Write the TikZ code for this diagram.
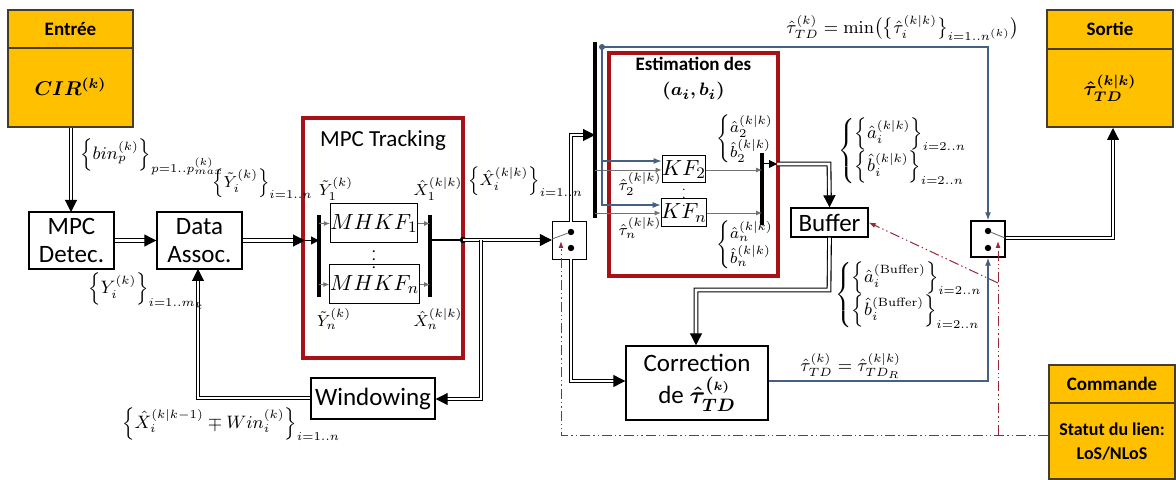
\documentclass[tikz,border=0pt]{standalone}
\usepackage{amsmath,bm}
\usepackage[no-math]{fontspec}
\setmainfont{Carlito}
\usetikzlibrary{arrows.meta}
\definecolor{gold}{RGB}{255,192,0}
\definecolor{ybord}{RGB}{70,60,40}
\definecolor{dred}{RGB}{168,18,22}
\definecolor{bl}{RGB}{68,96,130}
\definecolor{ddred}{RGB}{150,40,55}
\begin{document}
\begin{tikzpicture}[x=0.5pt,y=-0.5pt,
  box/.style={draw, line width=0.7pt, fill=white, inner sep=0pt, align=center, font=\fontsize{12.5}{14}\selectfont},
  mbox/.style={draw, line width=0.5pt, fill=white, inner sep=0pt, font=\fontsize{11}{12}\selectfont},
  ybox/.style={draw=ybord, line width=1pt, fill=gold, inner sep=0pt},
  yline/.style={draw=ybord, line width=0.8pt},
  hd/.style={inner sep=0pt, font=\fontsize{9.5}{11}\selectfont\bfseries, align=center},
  rbox/.style={draw=dred, line width=1.8pt, inner sep=0pt},
  dl/.style={double, double distance=1.3pt, line width=0.55pt},
  dla/.style={dl, -{Triangle[length=6pt,width=6pt]}},
  sa/.style={line width=0.8pt, -{Triangle[length=4pt,width=4pt]}},
  bar/.style={line width=2.2pt},
  ga/.style={draw=black!55, line width=0.4pt, -{Latex[length=3pt,width=2.5pt]}},
  ba/.style={draw=bl, line width=0.6pt, -{Latex[length=4pt,width=3pt]}},
  rd/.style={draw=ddred, line width=0.5pt, dash pattern=on 5pt off 1.5pt on 0.7pt off 1.5pt on 0.7pt off 1.5pt},
  rda/.style={rd, -{Latex[length=3.5pt,width=2.5pt]}},
  lab/.style={inner sep=0pt, anchor=west, font=\fontsize{9}{10}\selectfont},
  slab/.style={inner sep=0pt, font=\fontsize{8.5}{9}\selectfont},
  dot/.style={circle, fill, inner sep=0pt, minimum size=3.2pt},
]
\useasboundingbox (0,0) rectangle (1176,480);

% ---------- yellow boxes ----------
\node[ybox, minimum width=62.5pt, minimum height=58.5pt] (ent) at (70.5,68.5) {};
\draw[yline] (8,48) -- (133,48);
\node[hd] (entH) at (70.5,29) {Entrée};
\node[inner sep=0pt, font=\fontsize{10}{11}\selectfont] (entB) at (70.5,87) {$\bm{CIR^{(k)}}$};

\node[ybox, minimum width=63pt, minimum height=58.5pt] (sor) at (1110,68.5) {};
\draw[yline] (1047,49) -- (1173,49);
\node[hd] (sorH) at (1110,29) {Sortie};
\node[inner sep=0pt, font=\fontsize{10}{11}\selectfont] (sorB) at (1110,88) {$\bm{\hat{\tau}^{(k|k)}_{TD}}$};

\node[ybox, minimum width=63pt, minimum height=57pt] (com) at (1112,422) {};
\draw[yline] (1049,403) -- (1175,403);
\node[hd] (comH) at (1112,384) {Commande};
\node[hd, font=\fontsize{9}{12}\selectfont\bfseries] (comB) at (1112,442) {Statut du lien:\\LoS/NLoS};

% ---------- red frames ----------
\node[rbox, minimum width=80pt, minimum height=120pt] (trk) at (383,238) {};
\node[inner sep=0pt, font=\fontsize{11.5}{12}\selectfont] (trkT) at (383,140) {MPC Tracking};
\node[rbox, minimum width=84.5pt, minimum height=111.5pt] (est) at (693.5,164.5) {};
\node[hd, font=\fontsize{9.5}{12.5}\selectfont\bfseries] (estT) at (693.5,79) {Estimation des\\$\bm{(a_i,b_i)}$};

% ---------- blocks ----------
\node[box, minimum width=42.5pt, minimum height=28.5pt] (det) at (71.5,240.5) {MPC\\Detec.};
\node[box, minimum width=42.5pt, minimum height=28.5pt] (da) at (199.5,240.5) {Data\\Assoc.};
\node[mbox, minimum width=38pt, minimum height=19.5pt] (mh1) at (374,223.5) {$MHKF_1$};
\node[mbox, minimum width=38.5pt, minimum height=19.5pt] (mhn) at (374.5,284.5) {$MHKF_n$};
\node[inner sep=0pt, font=\fontsize{8}{9}\selectfont] (mhd) at (374,254) {$\vdots$};
\node[box, minimum width=62pt, minimum height=20.5pt] (win) at (373,398.5) {Windowing};
\node[box, minimum width=17pt, minimum height=19pt] (sw1) at (569.5,240.5) {};
\node[mbox, minimum width=21pt, minimum height=13.5pt] (kf2) at (684,169.5) {$KF_2$};
\node[mbox, minimum width=21pt, minimum height=14pt] (kfn) at (684,213) {$KF_n$};
\node[inner sep=0pt, font=\fontsize{6}{7}\selectfont] (kfd) at (684,192) {$\vdots$};
\node[box, minimum width=38.5pt, minimum height=14.5pt] (buf) at (829.5,222.5) {Buffer};
\node[box, minimum width=71pt, minimum height=37pt, font=\fontsize{12.5}{16}\selectfont] (corr) at (697,383) {Correction\\de $\bm{\hat{\tau}^{(\scriptscriptstyle k)}_{TD}}$};
\node[box, minimum width=17pt, minimum height=18pt] (sw2) at (988,239) {};

% bars
\coordinate (b1t) at (319,215); \coordinate (b1b) at (319,297);
\coordinate (b2t) at (430,215); \coordinate (b2b) at (430,297);
\coordinate (b3t) at (595,42);  \coordinate (b3b) at (595,218);
\coordinate (b4t) at (762,153); \coordinate (b4b) at (762,225);
\draw[bar] (b1t) -- (b1b);
\draw[bar] (b2t) -- (b2b);
\draw[bar] (b3t) -- (b3b);
\draw[bar] (b4t) -- (b4b);

% switch internals
\node[dot] (s1a) at (571,232) {};
\node[dot] (s1b) at (571,248) {};
\coordinate (s1l) at (552,239);
\draw[black!60, line width=0.4pt] (s1l) -- (s1a);
\node[dot] (s2a) at (988,231) {};
\node[dot] (s2b) at (988,248) {};
\coordinate (s2r) at (1005,238);
\draw[black!60, line width=0.4pt] (s2a) -- (s2r);

% ---------- connectors ----------
\draw[dla] (ent.south -| 71,0) -- (71,212);
\draw[dla] (det.east) -- (da.west);
\coordinate (tin) at (305,240.5);
\draw[dla] (da.east) -- (tin);
\draw[sa, line width=0.5pt] (tin) -- (319,240.5);
\draw[ga] (319,223.5) -- (mh1.west);
\draw[ga] (319,284.5) -- (mhn.west);
\draw[ga] (mh1.east) -- (430,223.5);
\draw[ga] (mhn.east) -- (430,284.5);
\coordinate (tout) at (463,240);
\draw[line width=1.2pt] (430,240) -- (tout);
\fill (tout) circle (1.6pt);
\draw[dla] (tout) -- (sw1.west |- tout);
\coordinate (br) at (481,240);
\draw[dla] (br) -- (481,399) -- (win.east |- 0,399);
\draw[dla] (win.west |- 0,398) -- (198,398) -- (198,269);
\draw[dla] (571,222) -- (571,135) -- (b3t |- 0,135);
\draw[dla] (571,259) -- (571,381) -- (corr.west |- 0,381);
\draw[ga] (595,170) -- (kf2.west |- 0,170);
\draw[ga] (595,213) -- (kfn.west);
\draw[ga] (kf2.east |- 0,170) -- (762,170);
\draw[ga] (kfn.east) -- (762,213);
% blue
\coordinate (bt) at (602,47);
\fill[bl] (bt) circle (1.5pt);
\draw[ba] (bt) -- (988,47) -- (sw2.north);
\draw[ba] (bt) -- (602,161) -- (kf2.west |- 0,161);
\draw[ba] (602,161) -- (602,205) -- (kfn.west |- 0,205);
\draw[ba] (corr.east |- 0,381) -- (988,381) -- (sw2.south);
% estimation -> buffer
\coordinate (eout) at (777,164);
\draw[sa, line width=0.5pt] (762,164) -- (eout);
\draw[dla] (eout) -- (829,164) -- (buf.north);
\draw[dla] (buf.south) -- (829,290) -- (696,290) -- (corr.north -| 696,0);
\draw[dla] (sw2.east |- s2r) -- (1113,238) -- (sor.south -| 1113,0);
% red dash-dot
\draw[rda] (com.west |- 0,435) -- (561,435) -- (561,241);
\draw[rda] (998,435) -- (998,241);
\draw[rda] (998,283) -- (buf.east);

% ---------- labels ----------
\node[lab] (lbin) at (80,157) {$\Bigl\{bin_p^{(k)}\Bigr\}_{p=1..p_{max}^{(k)}}$};
\node[lab, font=\fontsize{8.5}{9}\selectfont] (lyt) at (212,184) {$\Bigl\{\tilde{Y}_i^{(k)}\Bigr\}_{i=1..n}$};
\node[lab] (ly) at (88,291) {$\Bigl\{Y_i^{(k)}\Bigr\}_{i=1..m_k}$};
\node[lab, font=\fontsize{8.5}{9}\selectfont] (lx) at (468,182) {$\Bigl\{\hat{X}_i^{(k|k)}\Bigr\}_{i=1..n}$};
\node[lab] (lw) at (122,424) {$\Bigl\{\hat{X}_i^{(k|k-1)}\mp Win_i^{(k)}\Bigr\}_{i=1..n}$};
\node[lab] (lmin) at (786,28) {$\hat{\tau}_{TD}^{(k)}=\min\bigl(\bigl\{\hat{\tau}_i^{(k|k)}\bigr\}_{i=1..n^{(k)}}\bigr)$};
\node[lab] (lab1) at (838,151) {$\left\{\begin{array}{@{}l@{}}\Bigl\{\hat{a}_i^{(k|k)}\Bigr\}_{i=2..n}\\[2pt]\Bigl\{\hat{b}_i^{(k|k)}\Bigr\}_{i=2..n}\end{array}\right.$};
\node[lab] (lab2) at (835,295) {$\left\{\begin{array}{@{}l@{}}\Bigl\{\hat{a}_i^{(\mathrm{Buffer})}\Bigr\}_{i=2..n}\\[2pt]\Bigl\{\hat{b}_i^{(\mathrm{Buffer})}\Bigr\}_{i=2..n}\end{array}\right.$};
\node[lab] (ltr) at (800,366) {$\hat{\tau}_{TD}^{(k)}=\hat{\tau}_{TD_R}^{(k|k)}$};
\node[slab] (ly1) at (336,189) {$\tilde{Y}_1^{(k)}$};
\node[slab] (lx1) at (438,189) {$\hat{X}_1^{(k|k)}$};
\node[slab] (lyn) at (334,319) {$\tilde{Y}_n^{(k)}$};
\node[slab] (lxn) at (438,319) {$\hat{X}_n^{(k|k)}$};
\node[slab] (lt2) at (640,184) {$\hat{\tau}_2^{(k|k)}$};
\node[slab] (ltn) at (640,228) {$\hat{\tau}_n^{(k|k)}$};
\node[slab, anchor=west] (lab2k) at (716,139) {$\left\{\begin{array}{@{}l@{}}\hat{a}_2^{(k|k)}\\[1pt]\hat{b}_2^{(k|k)}\end{array}\right.$};
\node[slab, anchor=west] (labnk) at (716,245) {$\left\{\begin{array}{@{}l@{}}\hat{a}_n^{(k|k)}\\[1pt]\hat{b}_n^{(k|k)}\end{array}\right.$};
\end{tikzpicture}
\end{document}
